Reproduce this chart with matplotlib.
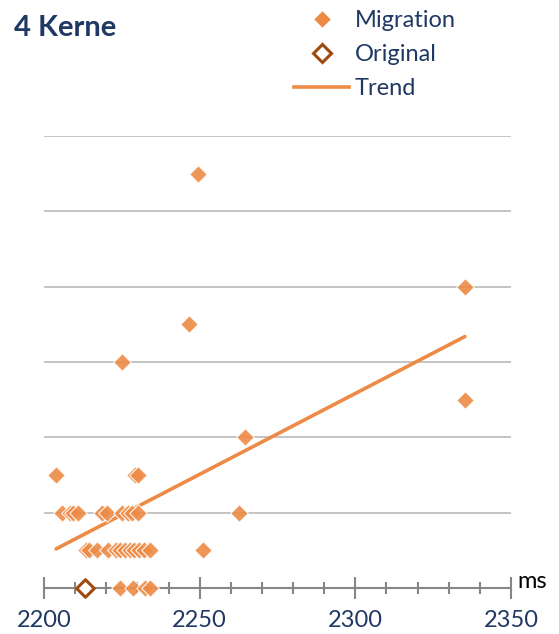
import numpy as np
import matplotlib
matplotlib.use("Agg")
import matplotlib.pyplot as plt
from matplotlib.lines import Line2D

# Laufzeiten (ms) und Anzahl je Messreihe
mig_ms = [
    2224.4, 2228.7, 2232.6, 2234.2,
    2213.5, 2214.5, 2217.0, 2220.5, 2223.0, 2224.5, 2226.0, 2227.5, 2229.0,
    2230.5, 2232.0, 2234.0, 2251.0,
    2205.7, 2208.4, 2209.4, 2211.0, 2218.5, 2220.1, 2225.0, 2227.1, 2228.2,
    2230.3, 2262.6,
    2203.9, 2229.2, 2230.3,
    2264.6,
    2335.2,
    2225.0,
    2246.6,
    2335.2,
    2249.5,
]
mig_count = [
    0, 0, 0, 0,
    1, 1, 1, 1, 1, 1, 1, 1, 1,
    1, 1, 1, 1,
    2, 2, 2, 2, 2, 2, 2, 2, 2,
    2, 2,
    3, 3, 3,
    4,
    5,
    6,
    7,
    8,
    11,
]
orig_ms = [2213.2]
orig_count = [0]

x_ticks = [2200, 2250, 2300, 2350]

navy = "#1F3864"
orange = "#ED8B46"
brown = "#9E4A0C"

plt.rcParams["font.family"] = ["Lato", "DejaVu Sans"]

fig = plt.figure(figsize=(5.59, 6.34), dpi=100)
ax = fig.add_axes([44 / 559, 1 - 588 / 634, 467 / 559, 452 / 634])

ax.set_xlim(2200, 2350)
ax.set_ylim(0, 12)

# horizontal gridlines
for yv in range(2, 13, 2):
    ax.axhline(yv, color="#BFBFBF", lw=1.3, zorder=0)

# trend line (least squares over migration runs)
mx = np.array(mig_ms)
my = np.array(mig_count)
k, d = np.polyfit(mx, my, 1)
tx = np.array([mx.min(), mx.max()])
ax.plot(tx, k * tx + d, color=orange, lw=2.6, solid_capstyle="round", zorder=2)

ax.scatter(mig_ms, mig_count, marker="D", s=80, color=orange, alpha=0.9,
           edgecolors="white", linewidths=0.8, zorder=3, clip_on=False)
ax.scatter(orig_ms, orig_count, marker="D", s=80, facecolors="white",
           edgecolors=brown, linewidths=2.2, zorder=4, clip_on=False)

for s in ["top", "right", "left"]:
    ax.spines[s].set_visible(False)
ax.spines["bottom"].set_color("#868686")
ax.spines["bottom"].set_linewidth(1.5)
ax.spines["bottom"].set_zorder(1)

ax.set_yticks([])
ax.set_xticks(x_ticks)
ax.set_xticks(np.arange(2200, 2351, 10), minor=True)
ax.tick_params(axis="x", which="major", direction="inout", length=16,
               width=1.5, color="#868686", labelsize=17, labelcolor=navy, pad=8)
ax.tick_params(axis="x", which="minor", direction="inout", length=9,
               width=1.5, color="#868686")

fig.text(532 / 559, 1 - 581 / 634, "ms", fontsize=17, color="black",
         ha="center", va="center")
fig.text(14 / 559, 1 - 28 / 634, "4 Kerne", fontsize=21, fontweight="bold",
         color=navy, ha="left", va="center")

handles = [
    Line2D([], [], ls="none", marker="D", ms=9, color=orange,
           markeredgecolor="white", markeredgewidth=0.8),
    Line2D([], [], ls="none", marker="D", ms=9, markerfacecolor="white",
           markeredgecolor=brown, markeredgewidth=2.2),
    Line2D([], [], color=orange, lw=2.6),
]
fig.legend(handles, ["Migration", "Original", "Trend"], loc="upper left",
           bbox_to_anchor=(285 / 559, 1 - 0.5 / 634), frameon=False,
           fontsize=17, labelcolor=navy, handlelength=2.3, handletextpad=0.25,
           labelspacing=0.55, borderaxespad=0)

fig.savefig("out.png", dpi=100)
